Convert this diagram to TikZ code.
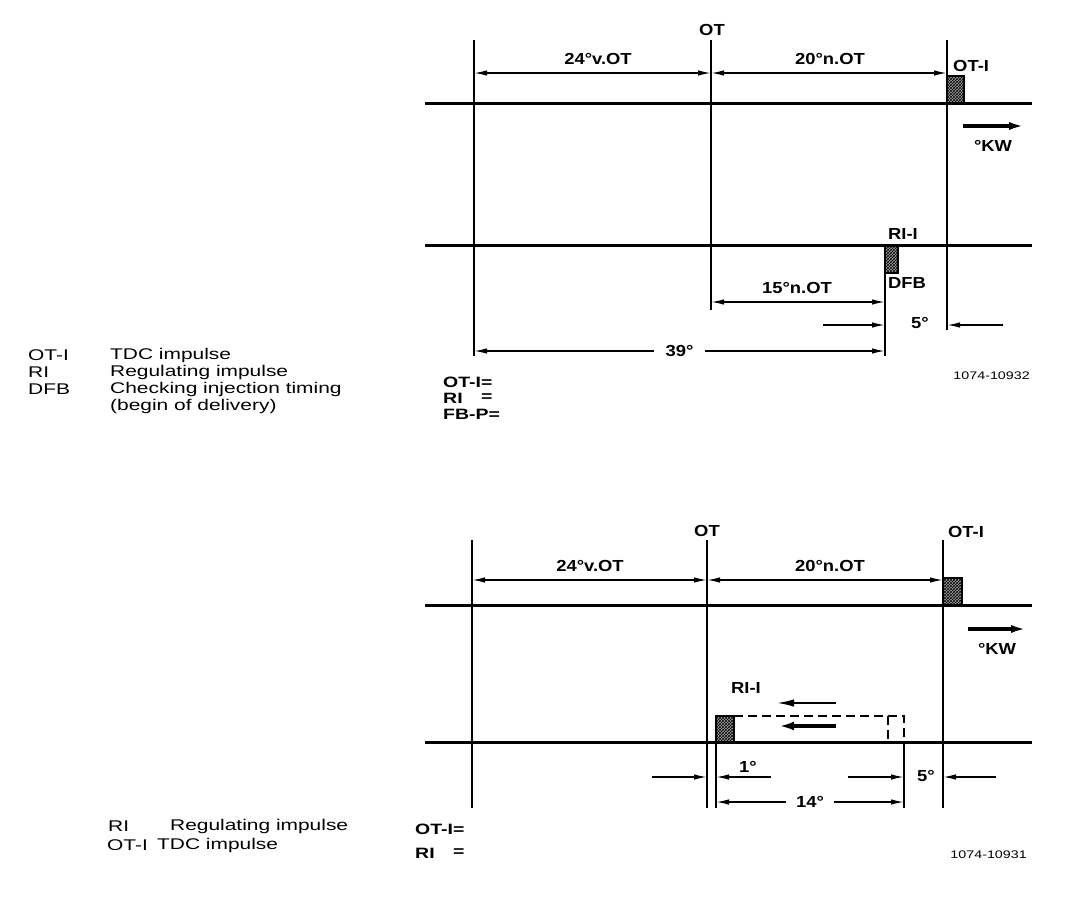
\documentclass[tikz,border=0pt]{standalone}
\usepackage{fontspec}
\setmainfont{Liberation Sans}[FakeStretch=1.15]
\newfontfamily\legendfont{Liberation Sans}[FakeStretch=1.35]
\newfontfamily\numberfont{Liberation Sans}[FakeStretch=1.3]
\newfontfamily\eqfont{Liberation Sans}[FakeStretch=1.3]
\usetikzlibrary{arrows.meta}
\usetikzlibrary{patterns}
\usetikzlibrary{positioning}

\begin{document}
\begin{tikzpicture}[x=1pt,y=-1pt,
  axis/.style={line width=3pt},
  crank/.style={line width=2.8pt},
  helpline/.style={line width=1.7pt},
  dimline/.style={line width=1.5pt,{Latex[length=13pt,width=5.5pt]}-{Latex[length=13pt,width=5.5pt]}},
  dimto/.style={line width=1.5pt,-{Latex[length=13pt,width=5.5pt]}},
  impulse/.style={draw,line width=1.8pt,preaction={fill=black!35},pattern=crosshatch},
  lbl/.style={font=\bfseries\fontsize{16}{18}\selectfont,inner sep=0pt},
  eqlbl/.style={font=\eqfont\bfseries\fontsize{15}{17}\selectfont,inner sep=0pt},
  legend/.style={font=\legendfont\fontsize{15.5}{17}\selectfont,inner sep=0pt,anchor=west},
  drawno/.style={font=\numberfont\fontsize{11}{13}\selectfont,inner sep=0pt}]
  \useasboundingbox (0,0) rectangle (1088,898);

  % upper diagram
  \coordinate (uL) at (474,40);  \coordinate (uLb) at (474,356);
  \coordinate (uM) at (711,40);  \coordinate (uMb) at (711,310);
  \coordinate (uR) at (947,40);  \coordinate (uRb) at (947,330);
  \coordinate (uDFB) at (885,273); \coordinate (uDFBb) at (885,356);
  \draw [axis] (425,103) -- (1032,103);
  \draw [axis] (425,245) -- (1032,245);
  \draw [crank] (uL) -- (uLb);
  \draw [crank] (uM) -- (uMb);
  \draw [crank] (uR) -- (uRb);
  \draw [helpline] (uDFB) -- (uDFBb);
  \draw [impulse] (947,76) rectangle (964,103);
  \draw [impulse] (885,246) rectangle (898,273);
  \node [lbl] (uOT) at (712,30) {OT};
  \node [lbl,anchor=west] (uOTI) at (953,66) {OT-I};
  \draw [dimline] (474,73) -- (711,73);
  \draw [dimline] (711,73) -- (947,73);
  \node [lbl] (uPre) at (598,59) {24°v.OT};
  \node [lbl] (uPost) at (830,59) {20°n.OT};
  \draw [line width=3.6pt,-{Latex[length=16pt,width=8pt]}] (963,126) -- (1025,126);
  \node [lbl] (uKW) at (993,146) {°KW};
  \node [lbl] (uRII) at (903,234) {RI-I};
  \node [lbl,anchor=west] (uDFBl) at (888,283) {DFB};
  \draw [dimline] (711,302) -- (885,302);
  \node [lbl] (u15) at (797,288) {15°n.OT};
  \draw [dimto] (823,325) -- (885,325);
  \draw [dimto] (1003,325) -- (947,325);
  \node [lbl] (u5) at (920,323) {5°};
  \draw [dimline] (474,351) -- node [lbl,fill=white,inner xsep=12pt] (u39) {39°} (885,351);
  \node [eqlbl,anchor=west] (uOTIeq) at (443,382) {OT-I=};
  \node [eqlbl,anchor=west] (uRI) at (443,398) {RI};
  \node [eqlbl,anchor=east] (uRIeq) at (uOTIeq.east |- uRI) {=};
  \node [eqlbl,anchor=west] (uFBP) at (443,414) {FB-P=};
  \node [drawno,anchor=east] (uNo) at (1030,376) {1074-10932};

  % legend of the upper diagram
  \node [legend] (lgOTI) at (28,355) {OT-I};
  \node [legend] (lgRI) at (28,372) {RI};
  \node [legend] (lgDFB) at (28,389) {DFB};
  \node [legend] (lgTDC) at (110,355) {TDC impulse};
  \node [legend] (lgReg) at (110,372) {Regulating impulse};
  \node [legend] (lgChk) at (110,389) {Checking injection timing};
  \node [legend] (lgBeg) at (110,406) {(begin of delivery)};

  % lower diagram
  \coordinate (dL) at (472,540);  \coordinate (dLb) at (472,808);
  \coordinate (dM) at (707,540);  \coordinate (dMb) at (707,808);
  \coordinate (dR) at (943,540);  \coordinate (dRb) at (943,808);
  \draw [axis] (425,605) -- (1032,605);
  \draw [axis] (425,742) -- (1032,742);
  \draw [crank] (dL) -- (dLb);
  \draw [crank] (dM) -- (dMb);
  \draw [crank] (dR) -- (dRb);
  \draw [helpline] (716,742) -- (716,808);
  \draw [helpline] (904,742) -- (904,808);
  \draw [impulse] (943,578) rectangle (962,605);
  \draw [impulse] (716,716) rectangle (734,742);
  \draw [helpline,dash pattern=on 9pt off 5pt] (734,716) -- (904,716) -- (904,742);
  \draw [helpline,dash pattern=on 9pt off 5pt] (888,716) -- (888,742);
  \node [lbl] (dOT) at (707,531) {OT};
  \node [lbl] (dOTI) at (966,532) {OT-I};
  \draw [dimline] (472,580) -- (707,580);
  \draw [dimline] (707,580) -- (943,580);
  \node [lbl] (dPre) at (590,566) {24°v.OT};
  \node [lbl] (dPost) at (830,566) {20°n.OT};
  \draw [line width=3.6pt,-{Latex[length=16pt,width=8pt]}] (968,629) -- (1027,629);
  \node [lbl] (dKW) at (997,649) {°KW};
  \node [lbl] (dRII) at (746,688) {RI-I};
  \draw [line width=1.8pt,-{Latex[length=17pt,width=7.5pt]}] (836,703) -- (777,703);
  \draw [line width=3.6pt,-{Latex[length=17pt,width=8.5pt]}] (836,726) -- (777,726);
  \draw [dimto] (652,777) -- (707,777);
  \draw [dimto] (771,777) -- (716,777);
  \node [lbl] (d1) at (748,767) {1°};
  \draw [dimto] (848,777) -- (904,777);
  \draw [dimto] (996,777) -- (943,777);
  \node [lbl] (d5) at (926,776) {5°};
  \draw [dimline] (716,802) -- node [lbl,fill=white,inner xsep=10pt] (d14) {14°} (904,802);
  \node [eqlbl,anchor=west] (dOTIeq) at (415,829) {OT-I=};
  \node [eqlbl,anchor=west] (dRI) at (415,853) {RI};
  \node [eqlbl,anchor=east] (dRIeq) at (dOTIeq.east |- dRI) {=};
  \node [drawno,anchor=east] (dNo) at (1027,855) {1074-10931};

  % legend of the lower diagram
  \node [legend] (lgRI2) at (108,826) {RI};
  \node [legend] (lgReg2) at (170,826) {Regulating impulse};
  \node [legend] (lgOTI2) at (107,845) {OT-I};
  \node [legend] (lgTDC2) at (157,845) {TDC impulse};
\end{tikzpicture}
\end{document}
